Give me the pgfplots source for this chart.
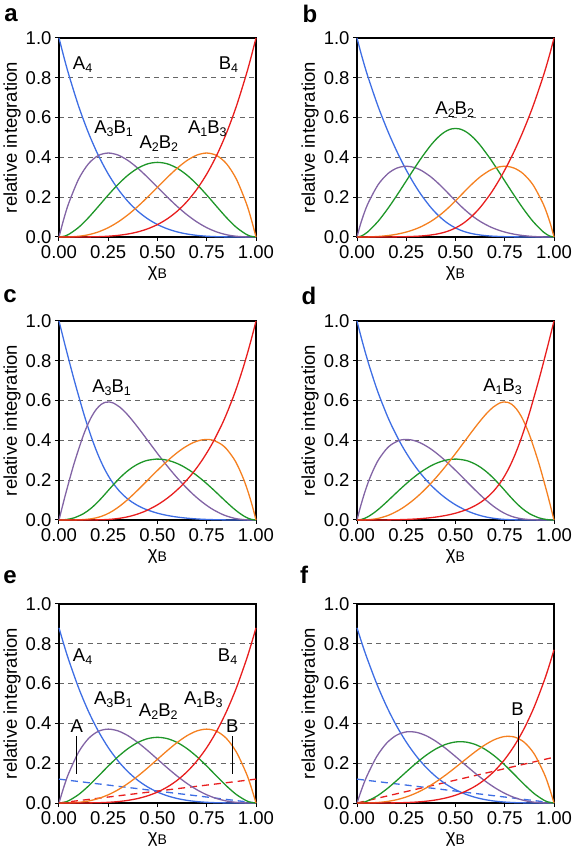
\documentclass[border=0pt]{standalone}
\usepackage{fontspec}
\setmainfont{Liberation Sans}
\usepackage{pgfplots}
\usepackage{pgfplotstable}
\pgfplotsset{compat=1.18}

\definecolor{cA}{RGB}{62,110,228}
\definecolor{cAB}{RGB}{130,100,165}
\definecolor{cAABB}{RGB}{30,150,40}
\definecolor{cBA}{RGB}{245,128,32}
\definecolor{cB}{RGB}{232,30,30}

\newcommand{\fs}{\fontsize{18.5}{21}\selectfont}
\newcommand{\sub}[1]{\raisebox{-3pt}{\fontsize{12.5}{13}\selectfont #1}}

% panel a: binomial
\pgfplotstableread{
x a4 a3b1 a2b2 a1b3 b4
0 1 0 0 0 0
0.025 0.903688 0.092686 0.003565 0.00006 0
0.05 0.81451 0.17148 0.01354 0.00048 0.00001
0.10 0.6561 0.2916 0.0486 0.0036 0.0001
0.15 0.52201 0.36848 0.09754 0.01148 0.00051
0.20 0.4096 0.4096 0.1536 0.0256 0.0016
0.25 0.31641 0.42188 0.21094 0.04688 0.00391
0.30 0.2401 0.4116 0.2646 0.0756 0.0081
0.35 0.17851 0.38448 0.31054 0.11148 0.01501
0.40 0.1296 0.3456 0.3456 0.1536 0.0256
0.45 0.09151 0.29948 0.36754 0.20048 0.04101
0.50 0.0625 0.25 0.375 0.25 0.0625
0.55 0.04101 0.20048 0.36754 0.29948 0.09151
0.60 0.0256 0.1536 0.3456 0.3456 0.1296
0.65 0.01501 0.11148 0.31054 0.38448 0.17851
0.70 0.0081 0.0756 0.2646 0.4116 0.2401
0.75 0.00391 0.04688 0.21094 0.42188 0.31641
0.80 0.0016 0.0256 0.1536 0.4096 0.4096
0.85 0.00051 0.01148 0.09754 0.36848 0.52201
0.90 0.0001 0.0036 0.0486 0.2916 0.6561
0.95 0.00001 0.00048 0.01354 0.17148 0.81451
0.975 0 0.00006 0.003565 0.092686 0.903688
1 0 0 0 0 1
}\tabA

% panel b
\pgfplotstableread{
x a4 a3b1 a2b2 a1b3 b4
0 1 0 0 0 0
0.02067 0.9218 0.07374 0.00442 0.00003 0
0.05313 0.8127 0.1625 0.02438 0.0004 0
0.10701 0.6561 0.2625 0.0787 0.00262 0.00007
0.15692 0.5308 0.3185 0.1433 0.00717 0.00027
0.20125 0.4322 0.3458 0.2075 0.01383 0.00069
0.23994 0.3551 0.3551 0.2663 0.0222 0.0014
0.27358 0.2945 0.3533 0.3180 0.0318 0.00239
0.30288 0.2465 0.3451 0.3624 0.04228 0.0037
0.32856 0.2083 0.3332 0.3999 0.0533 0.00533
0.37143 0.1524 0.3048 0.4571 0.0762 0.00952
0.40599 0.1148 0.2754 0.4958 0.0992 0.01487
0.43474 0.0886 0.2480 0.5207 0.1215 0.02126
0.45933 0.0697 0.2232 0.5357 0.1428 0.02857
0.48083 0.0559 0.2012 0.5433 0.1630 0.03667
0.5 0.04545 0.1818 0.5455 0.1818 0.04545
0.51917 0.03667 0.1630 0.5433 0.2012 0.0559
0.54067 0.02857 0.1428 0.5357 0.2232 0.0697
0.56526 0.02126 0.1215 0.5207 0.2480 0.0886
0.59401 0.01487 0.0992 0.4958 0.2754 0.1148
0.62857 0.00952 0.0762 0.4571 0.3048 0.1524
0.67144 0.00533 0.0533 0.3999 0.3332 0.2083
0.69712 0.0037 0.04228 0.3624 0.3451 0.2465
0.72642 0.00239 0.0318 0.3180 0.3533 0.2945
0.76006 0.0014 0.0222 0.2663 0.3551 0.3551
0.79875 0.00069 0.01383 0.2075 0.3458 0.4322
0.84308 0.00027 0.00717 0.1433 0.3185 0.5308
0.89299 0.00007 0.00262 0.0787 0.2625 0.6561
0.94687 0 0.0004 0.02438 0.1625 0.8127
0.97933 0 0.00003 0.00442 0.07374 0.9218
1 0 0 0 0 1
}\tabB

% panel c
\pgfplotstableread{
x a4 a3b1 a2b2 a1b3 b4
0 1 0 0 0 0
0.01879 0.9254 0.0740 0.00056 0 0
0.03546 0.8603 0.13764 0.00206 0.00003 0
0.07621 0.7065 0.2826 0.0106 0.00035 0
0.12505 0.5365 0.4292 0.0322 0.00215 0.00005
0.16097 0.4257 0.5109 0.0575 0.00575 0.0002
0.18987 0.3480 0.5568 0.0835 0.01114 0.00056
0.21453 0.2906 0.5812 0.1090 0.01816 0.00114
0.23646 0.2465 0.5917 0.1331 0.02663 0.0020
0.25651 0.2118 0.5930 0.1557 0.03632 0.00318
0.27521 0.1838 0.5881 0.1764 0.04704 0.0047
0.30973 0.1416 0.5664 0.2124 0.0708 0.00885
0.34149 0.1117 0.5361 0.2412 0.0965 0.01447
0.37115 0.0897 0.5021 0.2636 0.1230 0.02153
0.39902 0.0730 0.4672 0.2803 0.1495 0.0299
0.42527 0.0601 0.4329 0.2922 0.1753 0.03945
0.45 0.05 0.4 0.3 0.2 0.05
0.49521 0.03543 0.3401 0.3061 0.2449 0.07347
0.53519 0.02579 0.2888 0.3033 0.2831 0.0991
0.5705 0.0192 0.2457 0.2948 0.3145 0.1258
0.60166 0.01456 0.2097 0.2831 0.3397 0.1529
0.62921 0.01124 0.1798 0.2697 0.3596 0.1798
0.66479 0.00783 0.1440 0.2484 0.3808 0.2190
0.69469 0.0056 0.1166 0.2274 0.3942 0.2562
0.72761 0.00373 0.0896 0.2015 0.4030 0.3022
0.76035 0.00236 0.0660 0.1733 0.4044 0.3539
0.78627 0.00156 0.0499 0.1498 0.3994 0.3994
0.82447 0.00076 0.0304 0.1140 0.3799 0.4749
0.85113 0.0004 0.0198 0.0891 0.3563 0.5344
0.88579 0.00015 0.0097 0.0582 0.3106 0.6213
0.90730 0.00007 0.00545 0.0409 0.2725 0.6812
0.93687 0.00002 0.00183 0.0206 0.2058 0.7718
0.96138 0 0.00044 0.0082 0.1367 0.8546
0.98037 0 0.00006 0.00222 0.0739 0.9238
0.99010 0 0 0.00058 0.03844 0.9610
1 0 0 0 0 1
}\tabC

% panel d
\pgfplotstableread{
x a4 a3b1 a2b2 a1b3 b4
0 1 0 0 0 0
0.0099 0.9610 0.03844 0.00058 0 0
0.01963 0.9238 0.0739 0.00222 0.00006 0
0.03862 0.8546 0.1367 0.0082 0.00044 0
0.06313 0.7718 0.2058 0.0206 0.00183 0.00002
0.0927 0.6812 0.2725 0.0409 0.00545 0.00007
0.11421 0.6213 0.3106 0.0582 0.0097 0.00015
0.14887 0.5344 0.3563 0.0891 0.0198 0.0004
0.17553 0.4749 0.3799 0.1140 0.0304 0.00076
0.21373 0.3994 0.3994 0.1498 0.0499 0.00156
0.23965 0.3539 0.4044 0.1733 0.0660 0.00236
0.27239 0.3022 0.4030 0.2015 0.0896 0.00373
0.30531 0.2562 0.3942 0.2274 0.1166 0.0056
0.33521 0.2190 0.3808 0.2484 0.1440 0.00783
0.37079 0.1798 0.3596 0.2697 0.1798 0.01124
0.39834 0.1529 0.3397 0.2831 0.2097 0.01456
0.4295 0.1258 0.3145 0.2948 0.2457 0.0192
0.46481 0.0991 0.2831 0.3033 0.2888 0.02579
0.50479 0.07347 0.2449 0.3061 0.3401 0.03543
0.55 0.05 0.2 0.3 0.4 0.05
0.57473 0.03945 0.1753 0.2922 0.4329 0.0601
0.60098 0.0299 0.1495 0.2803 0.4672 0.0730
0.62885 0.02153 0.1230 0.2636 0.5021 0.0897
0.65851 0.01447 0.0965 0.2412 0.5361 0.1117
0.69027 0.00885 0.0708 0.2124 0.5664 0.1416
0.72479 0.0047 0.04704 0.1764 0.5881 0.1838
0.74349 0.00318 0.03632 0.1557 0.5930 0.2118
0.76354 0.0020 0.02663 0.1331 0.5917 0.2465
0.78547 0.00114 0.01816 0.1090 0.5812 0.2906
0.81013 0.00056 0.01114 0.0835 0.5568 0.3480
0.83903 0.0002 0.00575 0.0575 0.5109 0.4257
0.87495 0.00005 0.00215 0.0322 0.4292 0.5365
0.92379 0 0.00035 0.0106 0.2826 0.7065
0.96454 0 0.00003 0.00206 0.13764 0.8603
0.98121 0 0 0.00056 0.0740 0.9254
1 0 0 0 0 1
}\tabD

% panel e
\pgfplotstableread{
x a4 a3b1 a2b2 a1b3 b4
0 0.88 0 0 0 0
0.025 0.79525 0.08156 0.00314 0.00005 0
0.05 0.71677 0.1509 0.01191 0.00042 0.00001
0.10 0.57737 0.25661 0.04277 0.00317 0.00009
0.15 0.45937 0.32426 0.08583 0.0101 0.00045
0.20 0.36045 0.36045 0.13517 0.02253 0.00141
0.25 0.27844 0.37125 0.18563 0.04125 0.00344
0.30 0.21129 0.36221 0.23285 0.06653 0.00713
0.35 0.15709 0.33834 0.27327 0.0981 0.01321
0.40 0.11405 0.30413 0.30413 0.13517 0.02253
0.45 0.08053 0.26354 0.32343 0.17642 0.03609
0.50 0.055 0.22 0.33 0.22 0.055
0.55 0.03609 0.17642 0.32343 0.26354 0.08053
0.60 0.02253 0.13517 0.30413 0.30413 0.11405
0.65 0.01321 0.0981 0.27327 0.33834 0.15709
0.70 0.00713 0.06653 0.23285 0.36221 0.21129
0.75 0.00344 0.04125 0.18563 0.37125 0.27844
0.80 0.00141 0.02253 0.13517 0.36045 0.36045
0.85 0.00045 0.0101 0.08583 0.32426 0.45937
0.90 0.00009 0.00317 0.04277 0.25661 0.57737
0.95 0.00001 0.00042 0.01191 0.1509 0.71677
0.975 0 0.00005 0.00314 0.08156 0.79525
1 0 0 0 0 0.88
}\tabE

% panel f
\pgfplotstableread{
x a4 a3b1 a2b2 a1b3 b4
0 0.88 0 0 0 0
0.025 0.80275 0.07204 0.00242 0.00002 0
0.05 0.73038 0.13454 0.00929 0.00029 0
0.10 0.59957 0.23317 0.03400 0.00220 0.00005
0.15 0.48621 0.30030 0.06956 0.00716 0.00028
0.20 0.38889 0.34028 0.11166 0.01628 0.00089
0.25 0.30626 0.35730 0.15632 0.03039 0.00222
0.30 0.23696 0.35544 0.19993 0.04998 0.00469
0.35 0.17965 0.33857 0.23927 0.07516 0.00885
0.40 0.13302 0.31038 0.27158 0.10562 0.01540
0.45 0.09580 0.27433 0.29460 0.14060 0.02517
0.50 0.06675 0.23362 0.30663 0.17887 0.03913
0.55 0.04468 0.19114 0.30662 0.21861 0.05845
0.60 0.02846 0.14944 0.29420 0.25743 0.08447
0.65 0.01703 0.11068 0.26979 0.29227 0.11873
0.70 0.00938 0.07662 0.23463 0.31936 0.16301
0.75 0.00462 0.04849 0.19095 0.33415 0.21929
0.80 0.00193 0.02704 0.14196 0.33124 0.28983
0.85 0.00062 0.01238 0.09205 0.30428 0.37717
0.90 0.00013 0.00397 0.04684 0.24592 0.48415
0.95 0.00001 0.00053 0.01333 0.14771 0.61392
0.975 0 0.00002 0.00355 0.0807 0.68844
1 0 0 0 0 0.77
}\tabF

\pgfplotsset{
  panel/.style={
    width=197pt, height=199pt, scale only axis,
    xmin=0, xmax=1, ymin=0, ymax=1,
    xtick={0,0.25,0.5,0.75,1},
    xticklabels={0.00,0.25,0.50,0.75,1.00},
    ytick={0,0.2,0.4,0.6,0.8,1},
    yticklabels={0.0,0.2,0.4,0.6,0.8,1.0},
    tick align=outside, xtick pos=bottom, ytick pos=left,
    major tick length=4pt,
    tick style={black, line width=1pt},
    axis line style={line width=1.4pt},
    ymajorgrids,
    grid style={black!60, dash pattern=on 5pt off 4.5pt, line width=0.8pt},
    ticklabel style={font=\fs},
    xticklabel style={yshift=-1pt},
    label style={font=\fs},
    xlabel={χ\raisebox{-1.5pt}{\fontsize{14}{15}\selectfont B}},
    ylabel={relative integration},
    xlabel style={at={(axis description cs:0.5,-0.185)}, anchor=center},
    ylabel style={at={(axis description cs:-0.238,0.5)}, anchor=center},
    clip=false,
    every axis plot/.append style={smooth, line width=1.3pt},
  },
}

\newcommand{\fivecurves}[1]{%
  \addplot[cA] table[x=x,y=a4] {#1};
  \addplot[cAB] table[x=x,y=a3b1] {#1};
  \addplot[cAABB] table[x=x,y=a2b2] {#1};
  \addplot[cBA] table[x=x,y=a1b3] {#1};
  \addplot[cB] table[x=x,y=b4] {#1};
}

\begin{document}
\begin{tikzpicture}[x=1pt,y=1pt]
\path[use as bounding box] (0,0) rectangle (578,850);

% a
\begin{axis}[panel, at={(59pt,613pt)}, anchor=south west]
\fivecurves{\tabA}
\node[font=\fs] at (axis cs:0.12,0.866) {A\sub{4}};
\node[font=\fs] at (axis cs:0.86,0.866) {B\sub{4}};
\node[font=\fs] at (axis cs:0.277,0.546) {A\sub{3}B\sub{1}};
\node[font=\fs] at (axis cs:0.507,0.47) {A\sub{2}B\sub{2}};
\node[font=\fs] at (axis cs:0.753,0.546) {A\sub{1}B\sub{3}};
\end{axis}

% b
\begin{axis}[panel, at={(357pt,613pt)}, anchor=south west]
\fivecurves{\tabB}
\node[font=\fs] at (axis cs:0.496,0.639) {A\sub{2}B\sub{2}};
\end{axis}

% c
\begin{axis}[panel, at={(59pt,330pt)}, anchor=south west]
\fivecurves{\tabC}
\node[font=\fs] at (axis cs:0.267,0.666) {A\sub{3}B\sub{1}};
\end{axis}

% d
\begin{axis}[panel, at={(357pt,330pt)}, anchor=south west]
\fivecurves{\tabD}
\node[font=\fs] at (axis cs:0.739,0.668) {A\sub{1}B\sub{3}};
\end{axis}

% e
\begin{axis}[panel, at={(59pt,47pt)}, anchor=south west]
\addplot[cA, dash pattern=on 7pt off 5pt, smooth=false] coordinates {(0,0.12) (1,0)};
\addplot[cB, dash pattern=on 7pt off 5pt, smooth=false] coordinates {(0,0) (1,0.12)};
\fivecurves{\tabE}
\addplot[black, line width=1pt, smooth=false] coordinates {(0.09,0.147) (0.09,0.338)};
\addplot[black, line width=1pt, smooth=false] coordinates {(0.88,0.147) (0.88,0.338)};
\node[font=\fs] at (axis cs:0.12,0.736) {A\sub{4}};
\node[font=\fs] at (axis cs:0.856,0.736) {B\sub{4}};
\node[font=\fs] at (axis cs:0.276,0.518) {A\sub{3}B\sub{1}};
\node[font=\fs] at (axis cs:0.504,0.46) {A\sub{2}B\sub{2}};
\node[font=\fs] at (axis cs:0.733,0.518) {A\sub{1}B\sub{3}};
\node[font=\fs] at (axis cs:0.09,0.385) {A};
\node[font=\fs] at (axis cs:0.88,0.385) {B};
\end{axis}

% f
\begin{axis}[panel, at={(357pt,47pt)}, anchor=south west]
\addplot[cA, dash pattern=on 7pt off 5pt, smooth=false] coordinates {(0,0.12) (1,0)};
\addplot[cB, dash pattern=on 7pt off 5pt, smooth=false] coordinates {(0,0) (1,0.23)};
\fivecurves{\tabF}
\addplot[black, line width=1pt, smooth=false] coordinates {(0.818,0.193) (0.818,0.414)};
\node[font=\fs] at (axis cs:0.815,0.47) {B};
\end{axis}

% panel letters
\node[font=\bfseries\fontsize{24}{26}\selectfont] at (11,835) {a};
\node[font=\bfseries\fontsize{24}{26}\selectfont] at (310,836) {b};
\node[font=\bfseries\fontsize{24}{26}\selectfont] at (10,554) {c};
\node[font=\bfseries\fontsize{24}{26}\selectfont] at (309,554) {d};
\node[font=\bfseries\fontsize{24}{26}\selectfont] at (10,273) {e};
\node[font=\bfseries\fontsize{24}{26}\selectfont] at (304,275) {f};
\end{tikzpicture}
\end{document}
